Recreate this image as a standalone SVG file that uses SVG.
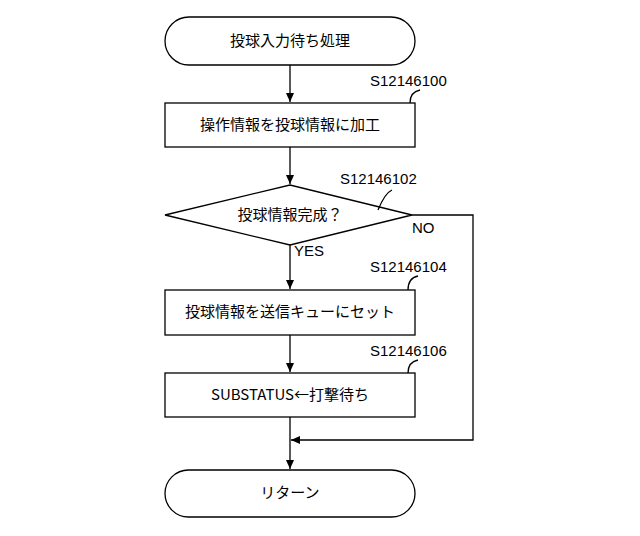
<svg xmlns="http://www.w3.org/2000/svg" width="640" height="536" viewBox="0 0 640 536">
<defs>
<marker id="ah" markerWidth="10" markerHeight="10" refX="9" refY="5" orient="auto" markerUnits="userSpaceOnUse"><path d="M0,1 L9,5 L0,9 z" fill="#000"/></marker>
<style>
.s{fill:#fff;stroke:#000;stroke-width:1.3}
.t{font-family:"Noto Sans CJK JP","Liberation Sans",sans-serif;font-size:15px;text-anchor:middle;fill:#000}
.l{font-family:"Liberation Sans",sans-serif;font-size:15px;fill:#000}
.c{fill:none;stroke:#000;stroke-width:1.3}
</style>
</defs>
<rect width="640" height="536" fill="#fff"/>
<g id="start"><rect class="s" x="165" y="17" width="250" height="48" rx="24"/><text class="t" x="290" y="46">投球入力待ち処理</text></g>
<g id="s100"><rect class="s" x="165" y="103" width="250" height="44"/><text class="t" x="290" y="130">操作情報を投球情報に加工</text><text class="l" x="370" y="86">S12146100</text></g>
<g id="s102"><polygon class="s" points="165,215 290,185 412,215 290,245"/><text class="t" x="290" y="220">投球情報完成？</text><text class="l" x="340" y="184">S12146102</text><text class="l" x="412" y="233">NO</text><text class="l" x="294" y="256">YES</text></g>
<g id="s104"><rect class="s" x="165" y="290" width="250" height="45"/><text class="t" x="290" y="317">投球情報を送信キューにセット</text><text class="l" x="370" y="272">S12146104</text></g>
<g id="s106"><rect class="s" x="165" y="373" width="250" height="44"/><text class="t" x="290" y="400">SUBSTATUS←打撃待ち</text><text class="l" x="370" y="356">S12146106</text></g>
<g id="end"><rect class="s" x="165" y="470" width="250" height="47" rx="23.5"/><text class="t" x="290" y="498">リターン</text></g>
<g id="connectors">
<line class="c" x1="290" y1="65" x2="290" y2="102" marker-end="url(#ah)"/>
<line class="c" x1="290" y1="147" x2="290" y2="184" marker-end="url(#ah)"/>
<line class="c" x1="290" y1="245" x2="290" y2="289" marker-end="url(#ah)"/>
<line class="c" x1="290" y1="335" x2="290" y2="372" marker-end="url(#ah)"/>
<line class="c" x1="290" y1="417" x2="290" y2="469" marker-end="url(#ah)"/>
<polyline class="c" points="412,215 473,215 473,440 291,440" marker-end="url(#ah)"/>
<path class="c" d="M410,103 Q410,92 420,90"/>
<path class="c" d="M378,210 Q385,193 392,190"/>
<path class="c" d="M408,290 Q408,278 418,276"/>
<path class="c" d="M408,373 Q408,362 418,360"/>
</g>
</svg>
